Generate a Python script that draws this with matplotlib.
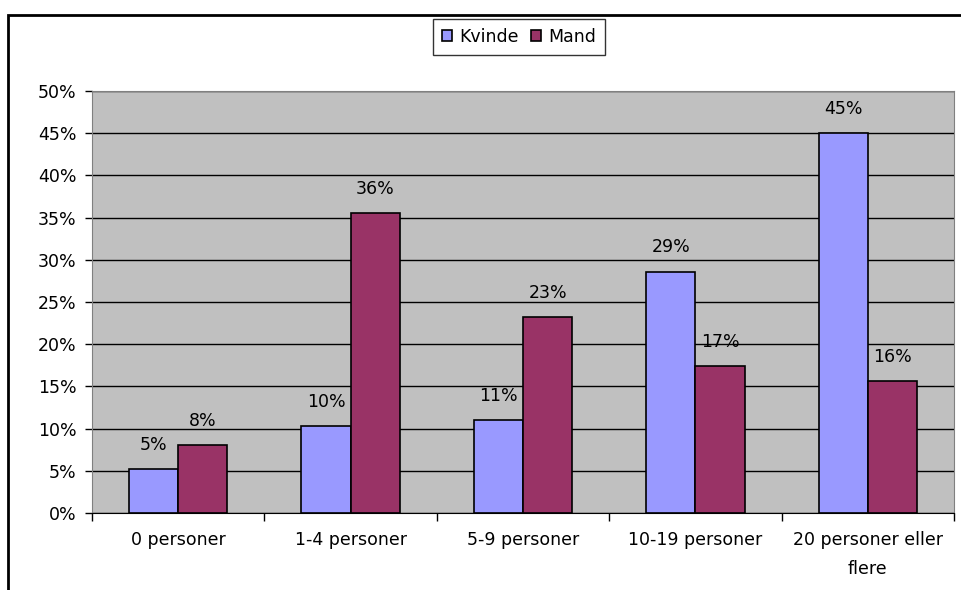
import numpy as np
import matplotlib.pyplot as plt
import matplotlib.patches as patches

plt.rcParams['font.family'] = ['DejaVu Sans']

categories = ['0 personer', '1-4 personer', '5-9 personer', '10-19 personer', '20 personer eller\nflere']
kvinde = [5.2, 10.3, 11.0, 28.6, 45.0]
mand = [8.0, 35.5, 23.2, 17.4, 15.6]
kvinde_labels = ['5%', '10%', '11%', '29%', '45%']
mand_labels = ['8%', '36%', '23%', '17%', '16%']

fig = plt.figure(figsize=(9.61, 5.9), dpi=100)
ax = fig.add_axes([92 / 961, 77 / 590, 862 / 961, 422 / 590])

# outer chart border (cut off at right and bottom)
border = patches.Rectangle((8 / 961, -0.05), 1.0, 1.05 - 15 / 590, transform=fig.transFigure,
                           fill=False, edgecolor='black', linewidth=2, clip_on=False)
fig.patches.append(border)

index = np.arange(len(categories))
bar_width = 1 / 3.5
fs = 12.5

ax.set_facecolor('#C0C0C0')
ax.set_axisbelow(True)
ax.yaxis.grid(True, color='black', linewidth=1)

b1 = ax.bar(index - bar_width / 2, kvinde, bar_width, color='#9999FF', edgecolor='black',
            linewidth=1.2, label='Kvinde')
b2 = ax.bar(index + bar_width / 2, mand, bar_width, color='#993366', edgecolor='black',
            linewidth=1.2, label='Mand')

for rect, lab in zip(b1, kvinde_labels):
    ax.annotate(lab, (rect.get_x() + rect.get_width() / 2, rect.get_height()),
                xytext=(0, 11), textcoords='offset points', ha='center', va='bottom', fontsize=fs)
for rect, lab in zip(b2, mand_labels):
    ax.annotate(lab, (rect.get_x() + rect.get_width() / 2, rect.get_height()),
                xytext=(0, 11), textcoords='offset points', ha='center', va='bottom', fontsize=fs)

ax.set_xlim(-0.5, len(categories) - 0.5)
ax.set_ylim(0, 50)
ax.set_yticks(np.arange(0, 51, 5))
ax.set_yticklabels([f'{v}%' for v in range(0, 51, 5)], fontsize=fs)
ax.tick_params(axis='y', length=5, width=1, color='black', pad=6)

ax.set_xticks(index)
ax.set_xticklabels(categories, fontsize=fs, linespacing=1.75)
ax.tick_params(axis='x', length=0, pad=13)
ax.set_xticks(np.arange(-0.5, len(categories), 1), minor=True)
ax.tick_params(axis='x', which='minor', length=6, width=1, color='black')

for side in ['top', 'right']:
    ax.spines[side].set_color('#808080')
ax.spines['left'].set_color('#808080')
ax.spines['bottom'].set_color('black')

leg = fig.legend(loc='center', bbox_to_anchor=(519 / 961, 1 - 37 / 590), ncol=2, fontsize=fs,
                 frameon=True, fancybox=False, edgecolor='black', handlelength=0.6, handleheight=0.6,
                 handletextpad=0.4, columnspacing=0.7, borderpad=0.5, borderaxespad=0)
leg.get_frame().set_linewidth(1)

fig.savefig('out.png', dpi=100)
